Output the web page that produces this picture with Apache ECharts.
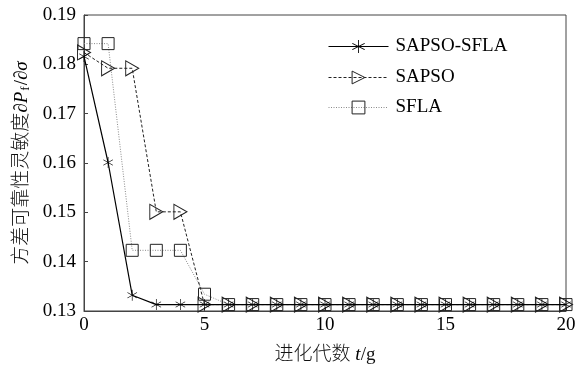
<!DOCTYPE html>
<html>
<head>
<meta charset="utf-8">
<script src="https://cdn.jsdelivr.net/npm/echarts@6/dist/echarts.min.js"></script>
<style>
  html, body { margin: 0; padding: 0; background: #fff; }
  #chart { width: 585px; height: 370px; }
</style>
</head>
<body>
<div id="chart"></div>
<script>
// Generation index (x axis)
const generations = [0,1,2,3,4,5,6,7,8,9,10,11,12,13,14,15,16,17,18,19,20];

// Variance reliability sensitivity per generation
const sapsoSfla = [0.1816,0.1601,0.1332,0.1313,0.1313,0.1313,0.1313,0.1313,0.1313,0.1313,0.1313,0.1313,0.1313,0.1313,0.1313,0.1313,0.1313,0.1313,0.1313,0.1313,0.1313];
const sapso     = [0.1824,0.1792,0.1792,0.1501,0.1501,0.1313,0.1313,0.1313,0.1313,0.1313,0.1313,0.1313,0.1313,0.1313,0.1313,0.1313,0.1313,0.1313,0.1313,0.1313,0.1313];
const sfla      = [0.1842,0.1842,0.1423,0.1423,0.1423,0.1334,0.1313,0.1313,0.1313,0.1313,0.1313,0.1313,0.1313,0.1313,0.1313,0.1313,0.1313,0.1313,0.1313,0.1313,0.1313];

const seriesNames = ['SAPSO-SFLA', 'SAPSO', 'SFLA'];

const FONT = '"Liberation Serif", "Noto Sans CJK SC", serif';
const FS = 19;

// six-armed asterisk marker
const STAR = 'path://M-0.6,-10L0.6,-10L0.6,10L-0.6,10Z' +
  'M8.36,-5.52L8.96,-4.48L-8.36,5.52L-8.96,4.48Z' +
  'M-8.96,-4.48L-8.36,-5.52L8.96,4.48L8.36,5.52Z';

const pairs = arr => generations.map((g, i) => [g, arr[i]]);

const chart = echarts.init(document.getElementById('chart'), null, { renderer: 'canvas' });

const legendBase = (name, top, itemStyle) => ({
  data: [{ name: name, itemStyle: itemStyle }],
  left: 328,
  top: top,
  orient: 'vertical',
  itemWidth: 60,
  itemHeight: 16,
  itemGap: 0,
  padding: 0,
  lineStyle: { width: 1 },
  textStyle: { fontFamily: FONT, fontSize: FS, color: '#000', padding: [0, 0, 0, 2] },
  selectedMode: false
});

const hollow = { color: 'rgba(255,255,255,0)', borderColor: '#222', borderWidth: 1 };

chart.setOption({
  animation: false,
  backgroundColor: '#fff',
  grid: { left: 84, right: 19, top: 15, bottom: 58, show: true, borderColor: '#444', borderWidth: 1 },
  legend: [
    legendBase(seriesNames[0], 37, { color: '#000', borderWidth: 0 }),
    legendBase(seriesNames[1], 68, hollow),
    legendBase(seriesNames[2], 98, hollow)
  ],
  xAxis: {
    type: 'value',
    min: 0, max: 20, interval: 5,
    axisLine: { show: true, lineStyle: { color: '#444', width: 1 } },
    axisTick: { show: true, inside: true, length: 4, lineStyle: { color: '#444' } },
    splitLine: { show: false },
    axisLabel: { fontFamily: FONT, fontSize: FS, color: '#000', margin: 5 },
    name: '{a|进化代数 }{i|t}{a|/g}',
    nameLocation: 'middle',
    nameGap: 35,
    nameTextStyle: {
      rich: {
        a: { fontFamily: FONT, fontSize: FS, color: '#111', fontWeight: 300 },
        i: { fontFamily: FONT, fontSize: FS, fontStyle: 'italic', color: '#000' }
      }
    }
  },
  yAxis: {
    type: 'value',
    min: 0.13, max: 0.19, interval: 0.01,
    axisLine: { show: true, lineStyle: { color: '#444', width: 1 } },
    axisTick: { show: true, inside: true, length: 4, lineStyle: { color: '#444' } },
    splitLine: { show: false },
    axisLabel: { fontFamily: FONT, fontSize: FS, color: '#000', margin: 8,
      formatter: v => v.toFixed(2) },
    name: '{a|方差可靠性灵敏度}{i|∂P}{s|f}{b|/∂}{i|σ}',
    nameLocation: 'middle',
    nameGap: 52,
    nameRotate: 90,
    nameTextStyle: {
      rich: {
        a: { fontFamily: FONT, fontSize: FS, color: '#111', fontWeight: 300 },
        b: { fontFamily: FONT, fontSize: FS, color: '#000' },
        i: { fontFamily: FONT, fontSize: FS, fontStyle: 'italic', color: '#000' },
        s: { fontFamily: FONT, fontSize: 13, color: '#000', verticalAlign: 'bottom', padding: [7, 1, 0, 1] }
      }
    }
  },
  series: [
    {
      name: seriesNames[2],
      type: 'line',
      data: pairs(sfla),
      symbol: 'rect',
      symbolSize: 12,
      lineStyle: { color: '#8a8a8a', width: 1, type: [1, 1.5] },
      itemStyle: hollow,
      z: 2
    },
    {
      name: seriesNames[1],
      type: 'line',
      data: pairs(sapso),
      symbol: 'triangle',
      symbolRotate: -90,
      symbolSize: [15, 13],
      lineStyle: { color: '#222', width: 1, type: [3, 2] },
      itemStyle: hollow,
      z: 3
    },
    {
      name: seriesNames[0],
      type: 'line',
      data: pairs(sapsoSfla),
      symbol: STAR,
      symbolKeepAspect: true,
      symbolSize: 11,
      lineStyle: { color: '#000', width: 1.2 },
      itemStyle: { color: '#000' },
      z: 4
    }
  ]
});
</script>
</body>
</html>
